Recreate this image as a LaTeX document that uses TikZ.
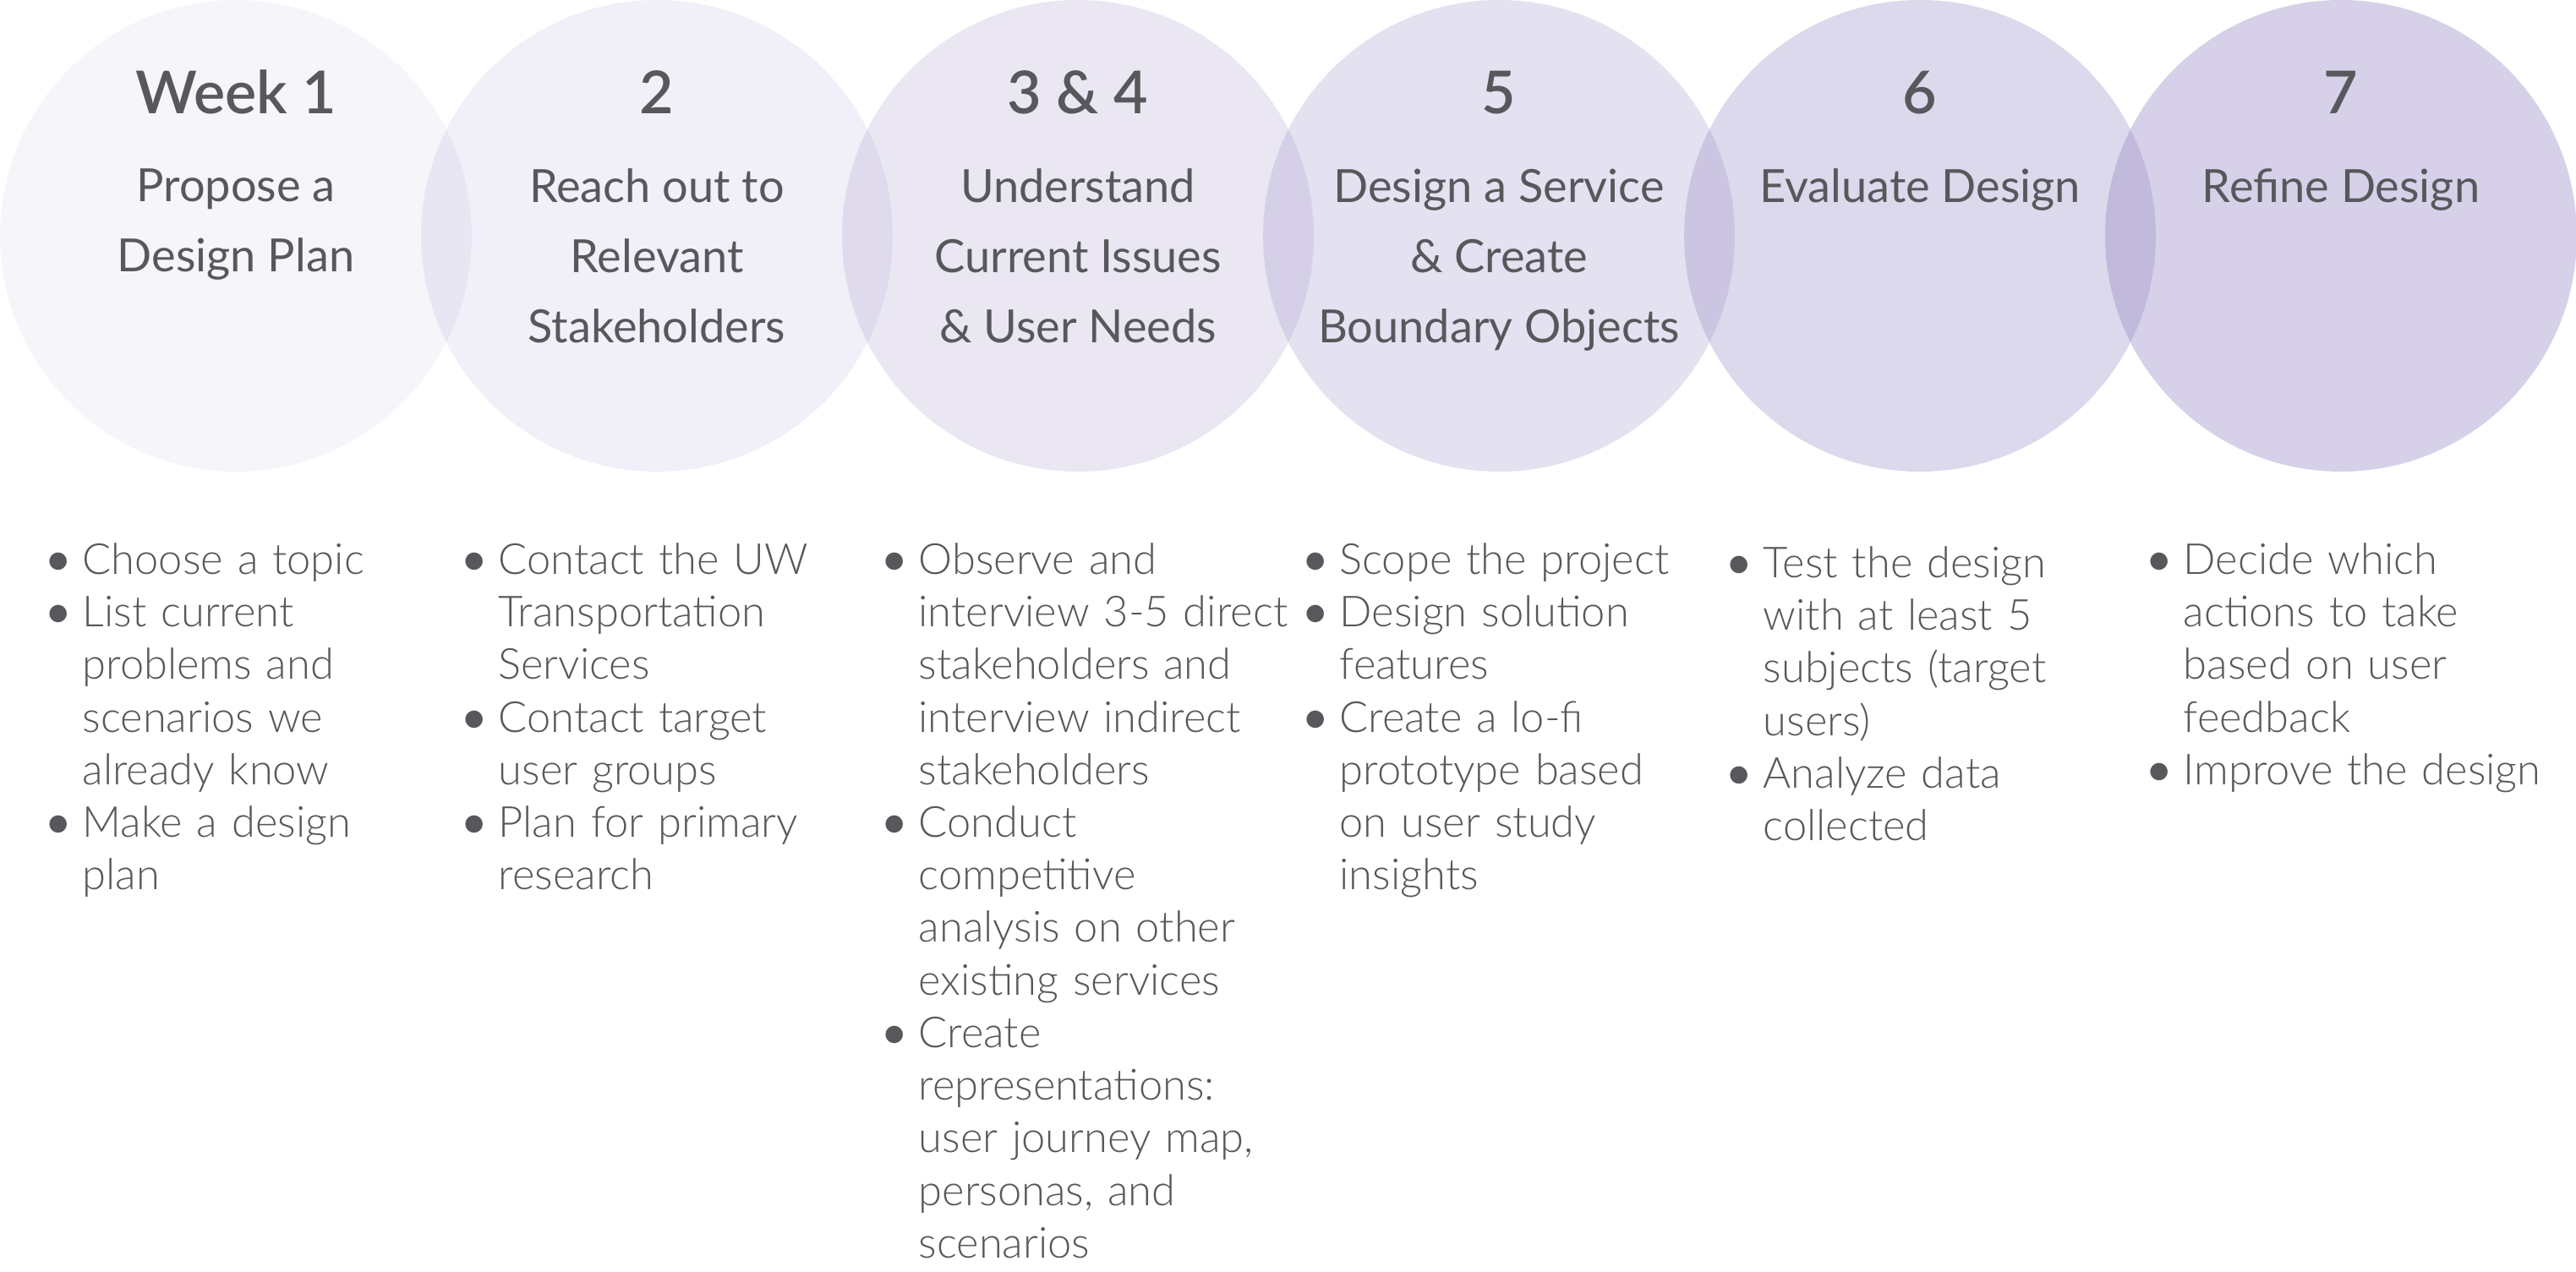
\documentclass[tikz,border=0pt]{standalone}
\usepackage{fontspec}
\setmainfont{Lato}
\newfontfamily\lightfont{Lato Light}
\newfontfamily\semifont{Lato Semibold}

\definecolor{inkgray}{HTML}{58575C}
\definecolor{lilac}{HTML}{9B8FC7}

% one bullet point of a task list
\newcommand{\titem}[1]{\hyphenpenalty=10000\noindent\hangindent=0.58cm\hangafter=1\makebox[0.58cm][c]{\semifont\textbullet}#1\par}

\begin{document}
\begin{tikzpicture}[
  week/.style={font=\semifont\fontsize{19.9}{24}\selectfont, text=inkgray, inner sep=0pt, anchor=base},
  phase/.style={font=\fontsize{15.4}{23.6}\selectfont, text=inkgray, align=center, inner sep=0pt, anchor=north},
  tasks/.style={font=\lightfont\fontsize{14.4}{17.7}\selectfont, text=inkgray, text width=6cm, align=left, inner sep=0pt, anchor=north west}
  ]
  \useasboundingbox (0,0) rectangle (30.47,-15.05);

  \foreach \i/\op in {0/0.09,1/0.14,2/0.21,3/0.27,4/0.34,5/0.41} {
    \fill[lilac, fill opacity=\op] (2.79+4.98*\i,-2.79) circle (2.79);
  }

  \node[week] (w1) at (2.79,-1.35) {Week 1};
  \node[week] (w2) at (7.77,-1.35) {2};
  \node[week] (w3) at (12.75,-1.35) {3 \& 4};
  \node[week] (w5) at (17.73,-1.35) {5};
  \node[week] (w6) at (22.71,-1.35) {6};
  \node[week] (w7) at (27.69,-1.35) {7};

  \node[phase] (p1) at (2.79,-1.99) {Propose a\\Design Plan};
  \node[phase] (p2) at (7.77,-1.99) {Reach out to\\Relevant\\Stakeholders};
  \node[phase] (p3) at (12.75,-1.99) {Understand\\Current Issues\\\& User Needs};
  \node[phase] (p5) at (17.73,-1.99) {Design a Service\\\& Create\\Boundary Objects};
  \node[phase] (p6) at (22.71,-1.99) {Evaluate Design};
  \node[phase] (p7) at (27.69,-1.99) {Refine Design};

  \node[tasks] (t1) at (0.39,-6.42) {
    \titem{Choose a topic}
    \titem{List current\newline problems and\newline scenarios we\newline already know}
    \titem{Make a design\newline plan}};
  \node[tasks] (t2) at (5.31,-6.42) {
    \titem{Contact the UW\newline Transportation\newline Services}
    \titem{Contact target\newline user groups}
    \titem{Plan for primary\newline research}};
  \node[tasks] (t3) at (10.28,-6.42) {
    \titem{Observe and\newline interview 3-5 direct\newline stakeholders and\newline interview indirect\newline stakeholders}
    \titem{Conduct\newline competitive\newline analysis on other\newline existing services}
    \titem{Create\newline representations:\newline user journey map,\newline personas, and\newline scenarios}};
  \node[tasks] (t5) at (15.26,-6.42) {
    \titem{Scope the project}
    \titem{Design solution\newline features}
    \titem{Create a lo-fi\newline prototype based\newline on user study\newline insights}};
  \node[tasks] (t6) at (20.27,-6.46) {
    \titem{Test the design\newline with at least 5\newline subjects (target\newline users)}
    \titem{Analyze data\newline collected}};
  \node[tasks] (t7) at (25.24,-6.42) {
    \titem{Decide which\newline actions to take\newline based on user\newline feedback}
    \titem{Improve the design}};
\end{tikzpicture}
\end{document}
